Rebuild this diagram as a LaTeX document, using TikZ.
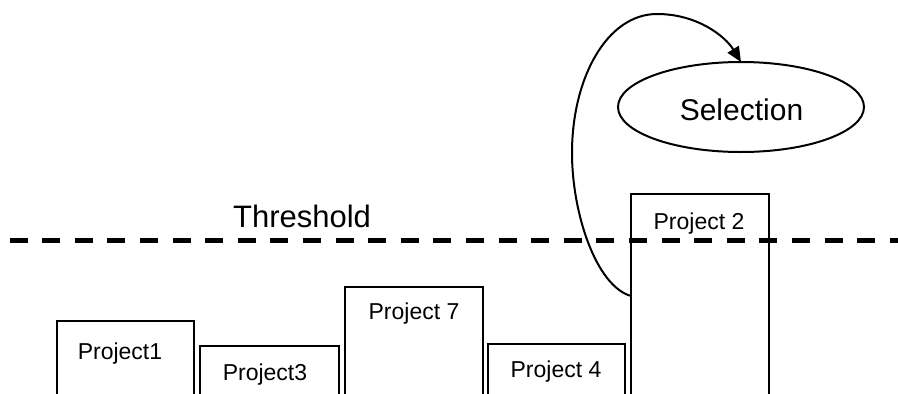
\documentclass[tikz,border=0pt]{standalone}
\usepackage{fontspec}
\setmainfont{Liberation Sans}
\usetikzlibrary{arrows.meta,shapes.geometric}

\tikzset{
  slot/.style={inner sep=0pt, outer sep=0pt},
  slotline/.style={line width=2pt, line join=miter},
  plabel/.style={anchor=base, inner sep=0pt, font=\fontsize{23}{23}\selectfont},
  biglabel/.style={anchor=base, inner sep=0pt, font=\fontsize{30}{30}\selectfont},
  selnode/.style={ellipse, draw, line width=2pt, minimum width=246pt,
    minimum height=90pt, inner sep=0pt, outer sep=0pt},
  cutoff/.style={line width=4.8pt, dash pattern=on 18pt off 14.6pt},
  link/.style={line width=2pt, -{Triangle[length=15pt,width=13pt]}}
}

\begin{document}
\begin{tikzpicture}[x=1pt, y=-1pt]
  \useasboundingbox (0,0) rectangle (898,394);
  \clip (0,0) rectangle (898,394);

  % threshold line
  \coordinate (thl) at (9.5,240.8);
  \coordinate (thr) at (910,240.8);
  \draw[cutoff] (thl) -- (thr);
  \node[biglabel, font=\fontsize{31}{31}\selectfont] (thtext) at (302,227) {Threshold};

  % project bars (open at the bottom edge)
  \node[slot, minimum width=137pt, minimum height=79pt]  (p1) at (125.5,360.5) {};
  \node[slot, minimum width=139pt, minimum height=54pt]  (p3) at (269.5,373) {};
  \node[slot, minimum width=138pt, minimum height=113pt] (p7) at (414,343.5) {};
  \node[slot, minimum width=137pt, minimum height=56pt]  (p4) at (556.5,372) {};
  \node[slot, minimum width=138pt, minimum height=206pt] (p2) at (700,297) {};

  \foreach \b in {p1,p3,p7,p4,p2}
    \draw[slotline] (\b.south west) |- (\b.north east) -- (\b.south east);

  \node[plabel] (p1t) at (120,359) {Project1};
  \node[plabel] (p3t) at (265,380) {Project3};
  \node[plabel] (p7t) at (414,319) {Project 7};
  \node[plabel] (p4t) at (556,377) {Project 4};
  \node[plabel] (p2t) at (699,229) {Project 2};

  % selection
  \node[selnode] (sel) at (741,107) {};
  \node[biglabel] (selt) at (741.5,120) {Selection};

  % loop from project 2 up to the selection
  \draw[link] ([yshift=-102pt]p2.north west)
    .. controls (596,286) and (572,213) .. (572,153)
    .. controls (572,78) and (607,14) .. (657,14)
    .. controls (697,14) and (725,36) .. (sel.north);
\end{tikzpicture}
\end{document}
